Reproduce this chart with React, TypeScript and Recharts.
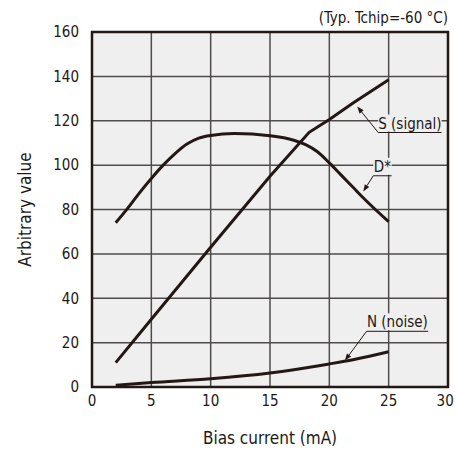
import React from "react";
import {
  LineChart,
  Line,
  XAxis,
  YAxis,
  CartesianGrid,
  ReferenceArea,
  ReferenceLine,
} from "recharts";

const INK = "#231815";
const GRID = "#4f4b4b";
const PLOT_BG = "#efefef";
const FONT = "'DejaVu Sans Condensed', 'DejaVu Sans', sans-serif";
const CHART_W = 455;

const currentTicks = [0, 5, 10, 15, 20, 25, 30];
const valueTicks = [0, 20, 40, 60, 80, 100, 120, 140, 160];

// S (signal)
const signalCurrent = [2, 5, 10, 15, 18.3, 20, 22, 25];
const signalValue = [11, 30.5, 63, 95, 114.8, 120.6, 128, 138.5];

// D*
const detectCurrent = [2, 3, 4, 5, 6, 7, 8, 9, 10, 12, 15, 17, 18, 19, 20, 21, 22, 23, 25];
const detectValue = [74, 80.5, 87.5, 94, 100, 105.2, 109.5, 112.2, 113.4, 114.2, 113.2, 111.2, 109.2, 106, 101, 95.5, 90, 84.5, 74.5];

// N (noise)
const noiseCurrent = [2, 5, 10, 15, 20, 22, 25];
const noiseValue = [0.8, 2, 3.7, 6.3, 10.4, 12.3, 15.9];

// annotations: label, underline x-range, underline y, arrow tip
const annoLabels = ["S (signal)", "D*", "N (noise)"];
const annoLineX = [[24.12, 29.46], [23.7, 25.25], [23.14, 28.33]];
const annoLineY = [114.7, 95.2, 25.1];
const annoTip = [[22.35, 126.4], [22.86, 88.1], [21.31, 11.9]];

const toPoints = (xs: number[], ys: number[]) => xs.map((x, i) => ({ x, y: ys[i] }));

const signalData = toPoints(signalCurrent, signalValue);
const detectData = toPoints(detectCurrent, detectValue);
const noiseData = toPoints(noiseCurrent, noiseValue);

// eslint-disable-next-line @typescript-eslint/no-explicit-any
function Leader(props: any) {
  const { x1, y1, x2, y2 } = props;
  const dx = x2 - x1;
  const dy = y2 - y1;
  const len = Math.sqrt(dx * dx + dy * dy) || 1;
  const ux = dx / len;
  const uy = dy / len;
  const headLen = 7;
  const headW = 2.6;
  const bx = x1 + ux * headLen;
  const by = y1 + uy * headLen;
  const p1 = `${bx - uy * headW},${by + ux * headW}`;
  const p2 = `${bx + uy * headW},${by - ux * headW}`;
  return (
    <g>
      <line x1={bx} y1={by} x2={x2} y2={y2} stroke={INK} strokeWidth={1} />
      <polygon points={`${x1},${y1} ${p1} ${p2}`} fill={INK} />
    </g>
  );
}

function makeUnderline(text: string) {
  // eslint-disable-next-line @typescript-eslint/no-explicit-any
  return function Underline(props: any) {
    const { x1, y1, x2 } = props;
    const left = Math.min(x1, x2);
    const right = Math.max(x1, x2);
    return (
      <g>
        <rect x={left} y={y1 - 18} width={right - left} height={17} fill={PLOT_BG} />
        <text
          x={(left + right) / 2}
          y={y1 - 4}
          textAnchor="middle"
          fontFamily={FONT}
          fontSize={15}
          fill={INK}
        >
          {text}
        </text>
        <line x1={left} y1={y1} x2={right} y2={y1} stroke={INK} strokeWidth={1} />
      </g>
    );
  };
}

// x tick: keep the last label inside the picture
// eslint-disable-next-line @typescript-eslint/no-explicit-any
function XTick(props: any) {
  const { x, y, payload } = props;
  const label = String(payload.value);
  const half = label.length * 4.4;
  const cx = Math.min(x, CHART_W - half - 1);
  return (
    <text
      x={cx}
      y={y}
      dy="0.71em"
      textAnchor="middle"
      fontFamily={FONT}
      fontSize={15}
      fill={INK}
    >
      {label}
    </text>
  );
}

export default function App() {
  return (
    <div style={{ position: "absolute", left: 0, top: 0, background: "#fff" }}>
      <LineChart
        width={CHART_W}
        height={455}
        margin={{ top: 32, right: 7, left: 0, bottom: 0 }}
      >
        <CartesianGrid
          stroke={GRID}
          strokeWidth={1.5}
          fill={PLOT_BG}
          fillOpacity={1}
        />
        <XAxis
          type="number"
          dataKey="x"
          domain={[0, 30]}
          ticks={currentTicks}
          interval={0}
          height={68}
          axisLine={false}
          tickLine={false}
          tickMargin={2}
          tick={<XTick />}
          label={{
            // eslint-disable-next-line @typescript-eslint/no-explicit-any
            content: (p: any) => (
              <text
                x={p.viewBox.x + p.viewBox.width / 2}
                y={p.viewBox.y + 57}
                textAnchor="middle"
                fontFamily={FONT}
                fontSize={17}
                fill={INK}
              >
                Bias current (mA)
              </text>
            ),
          }}
        />
        <YAxis
          type="number"
          domain={[0, 160]}
          ticks={valueTicks}
          interval={0}
          width={92}
          axisLine={false}
          tickLine={false}
          tickMargin={7}
          tick={{ fontSize: 15, fill: INK, fontFamily: FONT }}
          label={{
            // eslint-disable-next-line @typescript-eslint/no-explicit-any
            content: (p: any) => {
              const cx = p.viewBox.x + 25;
              const cy = p.viewBox.y + p.viewBox.height / 2;
              return (
                <text
                  x={cx}
                  y={cy}
                  transform={`rotate(-90 ${cx} ${cy})`}
                  textAnchor="middle"
                  dominantBaseline="central"
                  fontFamily={FONT}
                  fontSize={17}
                  fill={INK}
                >
                  Arbitrary value
                </text>
              );
            },
          }}
        />
        {annoLabels.map((label, i) => (
          <ReferenceLine
            key={`u-${label}`}
            segment={[
              { x: annoLineX[i][0], y: annoLineY[i] },
              { x: annoLineX[i][1], y: annoLineY[i] },
            ]}
            shape={makeUnderline(label)}
          />
        ))}
        {annoLabels.map((label, i) => (
          <ReferenceLine
            key={`l-${label}`}
            segment={[
              { x: annoTip[i][0], y: annoTip[i][1] },
              { x: annoLineX[i][0], y: annoLineY[i] },
            ]}
            shape={Leader}
          />
        ))}
        <Line
          data={signalData}
          dataKey="y"
          type="linear"
          stroke={INK}
          strokeWidth={3}
          dot={false}
          activeDot={false}
          isAnimationActive={false}
        />
        <Line
          data={detectData}
          dataKey="y"
          type="monotone"
          stroke={INK}
          strokeWidth={3}
          dot={false}
          activeDot={false}
          isAnimationActive={false}
        />
        <Line
          data={noiseData}
          dataKey="y"
          type="monotone"
          stroke={INK}
          strokeWidth={3}
          dot={false}
          activeDot={false}
          isAnimationActive={false}
        />
        <ReferenceArea
          x1={0}
          x2={30}
          y1={0}
          y2={160}
          fill="none"
          stroke={INK}
          strokeWidth={2.5}
          label={{
            // eslint-disable-next-line @typescript-eslint/no-explicit-any
            content: (p: any) => (
              <text
                x={p.viewBox.x + p.viewBox.width}
                y={p.viewBox.y - 9}
                textAnchor="end"
                fontFamily={FONT}
                fontSize={15}
                fill={INK}
              >
                (Typ. Tchip=-60 °C)
              </text>
            ),
          }}
        />
      </LineChart>
    </div>
  );
}
